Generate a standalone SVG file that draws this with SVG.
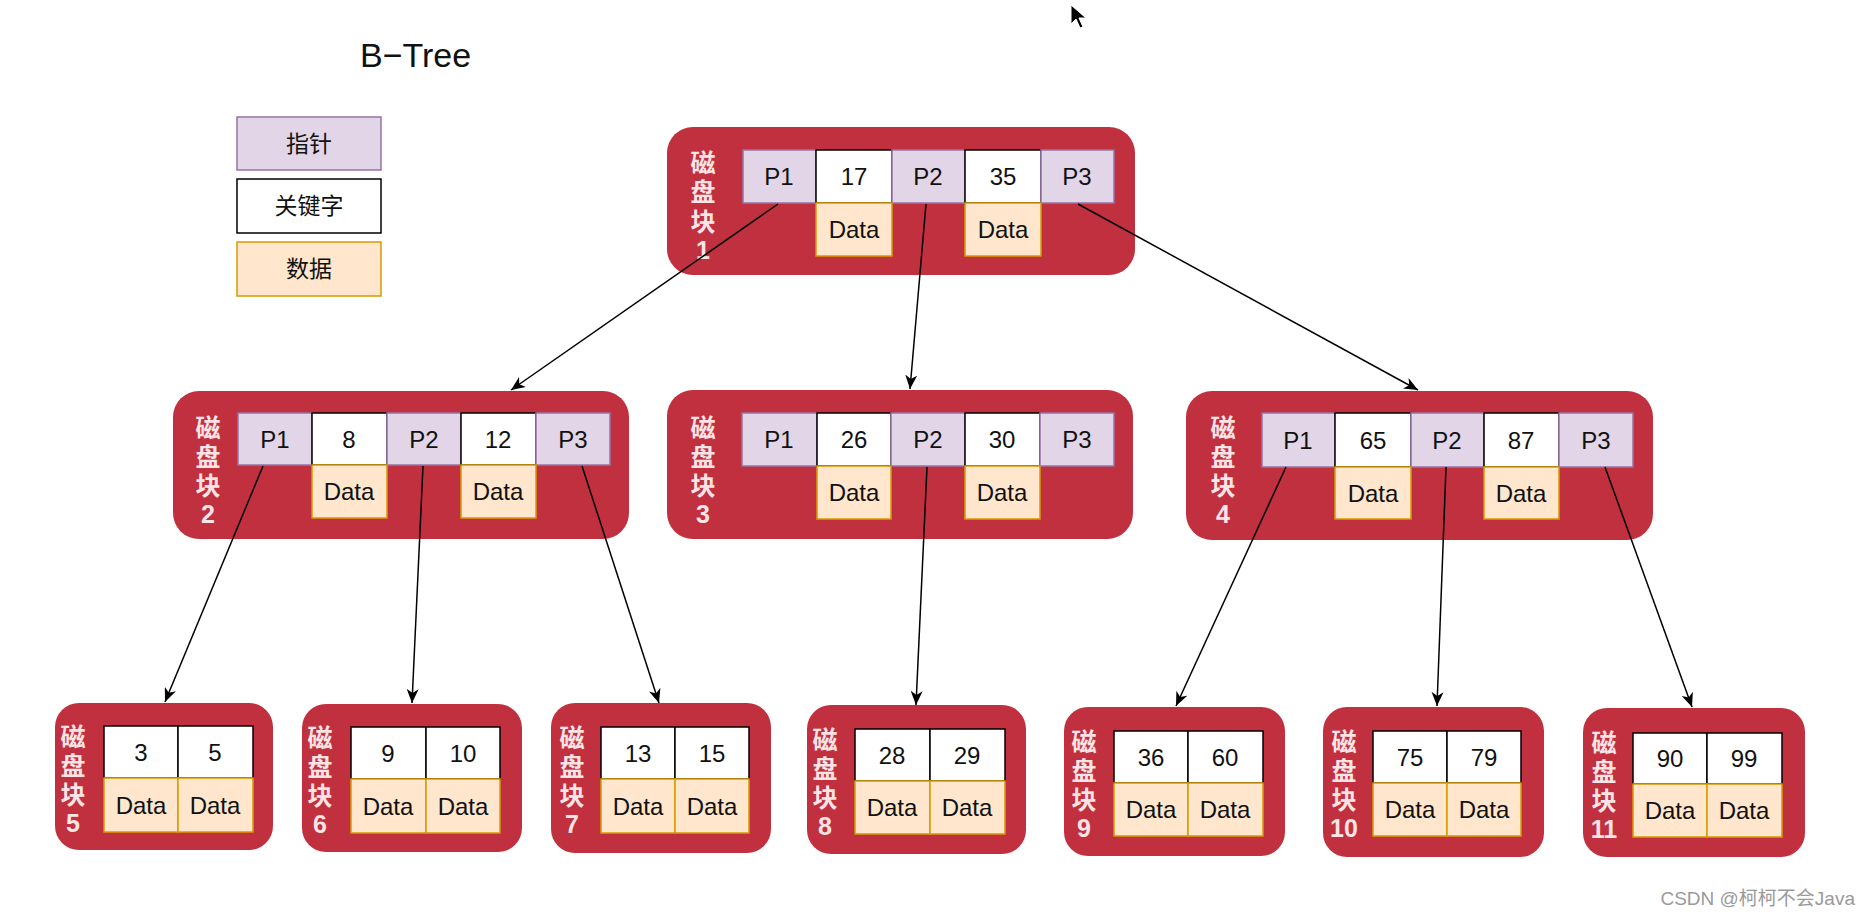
<svg xmlns="http://www.w3.org/2000/svg" width="1871" height="918" viewBox="0 0 1871 918">
<style>
text{font-family:"Liberation Sans","Noto Sans CJK SC",sans-serif;}
.blk{fill:#C1303E;}
.ptr{fill:#E1D5E7;stroke:#9673A6;stroke-width:1.5;}
.key{fill:#FFFFFF;stroke:#000000;stroke-width:1.5;}
.dat{fill:#FFE6CC;stroke:#D79B00;stroke-width:1.5;}
.t{font-size:24px;fill:#111;text-anchor:middle;}
.lg{font-size:23px;fill:#111;text-anchor:middle;}
.lb{font-size:25px;font-weight:bold;fill:#FBE3E6;text-anchor:middle;}
.cn{stroke:#000;stroke-width:1.5;fill:none;marker-end:url(#ah);}
</style>
<defs>
<marker id="ah" markerUnits="userSpaceOnUse" markerWidth="16" markerHeight="12" refX="14" refY="6" orient="auto">
<path d="M0,0 L14,6 L0,12 L4,6 z" fill="#000"/>
</marker>
</defs>
<rect width="1871" height="918" fill="#FFFFFF"/>
<g id="title"><text x="360" y="67" style="font-size:34px;fill:#111;">B−Tree</text></g>
<g id="legend">
<rect class="ptr" x="237" y="117" width="144" height="53"/><text class="lg" x="309" y="152">指针</text>
<rect class="key" x="237" y="179" width="144" height="54"/><text class="lg" x="309" y="214">关键字</text>
<rect class="dat" x="237" y="242" width="144" height="54"/><text class="lg" x="309" y="277">数据</text>
</g>
<g id="node1">
<rect class="blk" x="667" y="127" width="468" height="148" rx="26"/>
<text class="lb" x="703" y="172">磁</text><text class="lb" x="703" y="201">盘</text><text class="lb" x="703" y="231">块</text><text class="lb" x="703" y="259">1</text>
<rect class="ptr" x="743" y="150" width="73" height="53"/><rect class="key" x="816" y="150" width="76" height="53"/><rect class="ptr" x="892" y="150" width="73" height="53"/><rect class="key" x="965" y="150" width="76" height="53"/><rect class="ptr" x="1041" y="150" width="73" height="53"/>
<rect class="dat" x="816" y="203" width="76" height="53"/><rect class="dat" x="965" y="203" width="76" height="53"/>
<text class="t" x="779" y="185">P1</text><text class="t" x="854" y="185">17</text><text class="t" x="928" y="185">P2</text><text class="t" x="1003" y="185">35</text><text class="t" x="1077" y="185">P3</text>
<text class="t" x="854" y="238">Data</text><text class="t" x="1003" y="238">Data</text>
</g>
<g id="node2">
<rect class="blk" x="173" y="391" width="456" height="148" rx="26"/>
<text class="lb" x="208" y="437">磁</text><text class="lb" x="208" y="466">盘</text><text class="lb" x="208" y="495">块</text><text class="lb" x="208" y="523">2</text>
<rect class="ptr" x="238" y="413" width="74" height="52"/><rect class="key" x="312" y="413" width="75" height="52"/><rect class="ptr" x="387" y="413" width="74" height="52"/><rect class="key" x="461" y="413" width="75" height="52"/><rect class="ptr" x="536" y="413" width="74" height="52"/>
<rect class="dat" x="312" y="465" width="75" height="53"/><rect class="dat" x="461" y="465" width="75" height="53"/>
<text class="t" x="275" y="448">P1</text><text class="t" x="349" y="448">8</text><text class="t" x="424" y="448">P2</text><text class="t" x="498" y="448">12</text><text class="t" x="573" y="448">P3</text>
<text class="t" x="349" y="500">Data</text><text class="t" x="498" y="500">Data</text>
</g>
<g id="node3">
<rect class="blk" x="667" y="390" width="466" height="149" rx="26"/>
<text class="lb" x="703" y="437">磁</text><text class="lb" x="703" y="466">盘</text><text class="lb" x="703" y="495">块</text><text class="lb" x="703" y="523">3</text>
<rect class="ptr" x="742" y="413" width="75" height="53"/><rect class="key" x="817" y="413" width="74" height="53"/><rect class="ptr" x="891" y="413" width="74" height="53"/><rect class="key" x="965" y="413" width="75" height="53"/><rect class="ptr" x="1040" y="413" width="74" height="53"/>
<rect class="dat" x="817" y="466" width="74" height="53"/><rect class="dat" x="965" y="466" width="75" height="53"/>
<text class="t" x="779" y="448">P1</text><text class="t" x="854" y="448">26</text><text class="t" x="928" y="448">P2</text><text class="t" x="1002" y="448">30</text><text class="t" x="1077" y="448">P3</text>
<text class="t" x="854" y="501">Data</text><text class="t" x="1002" y="501">Data</text>
</g>
<g id="node4">
<rect class="blk" x="1186" y="391" width="467" height="149" rx="26"/>
<text class="lb" x="1223" y="437">磁</text><text class="lb" x="1223" y="466">盘</text><text class="lb" x="1223" y="495">块</text><text class="lb" x="1223" y="523">4</text>
<rect class="ptr" x="1262" y="413" width="73" height="54"/><rect class="key" x="1335" y="413" width="76" height="54"/><rect class="ptr" x="1411" y="413" width="73" height="54"/><rect class="key" x="1484" y="413" width="75" height="54"/><rect class="ptr" x="1559" y="413" width="74" height="54"/>
<rect class="dat" x="1335" y="467" width="76" height="52"/><rect class="dat" x="1484" y="467" width="75" height="52"/>
<text class="t" x="1298" y="449">P1</text><text class="t" x="1373" y="449">65</text><text class="t" x="1447" y="449">P2</text><text class="t" x="1521" y="449">87</text><text class="t" x="1596" y="449">P3</text>
<text class="t" x="1373" y="502">Data</text><text class="t" x="1521" y="502">Data</text>
</g>
<g id="node5">
<rect class="blk" x="55" y="703" width="218" height="147" rx="24"/>
<text class="lb" x="73" y="746">磁</text><text class="lb" x="73" y="775">盘</text><text class="lb" x="73" y="804">块</text><text class="lb" x="73" y="832">5</text>
<rect class="key" x="104" y="726" width="74" height="52"/><rect class="key" x="178" y="726" width="75" height="52"/>
<rect class="dat" x="104" y="778" width="74" height="54"/><rect class="dat" x="178" y="778" width="75" height="54"/>
<text class="t" x="141" y="761">3</text><text class="t" x="215" y="761">5</text>
<text class="t" x="141" y="814">Data</text><text class="t" x="215" y="814">Data</text>
</g>
<g id="node6">
<rect class="blk" x="302" y="704" width="220" height="148" rx="24"/>
<text class="lb" x="320" y="747">磁</text><text class="lb" x="320" y="776">盘</text><text class="lb" x="320" y="805">块</text><text class="lb" x="320" y="833">6</text>
<rect class="key" x="351" y="727" width="75" height="52"/><rect class="key" x="426" y="727" width="74" height="52"/>
<rect class="dat" x="351" y="779" width="75" height="54"/><rect class="dat" x="426" y="779" width="74" height="54"/>
<text class="t" x="388" y="762">9</text><text class="t" x="463" y="762">10</text>
<text class="t" x="388" y="815">Data</text><text class="t" x="463" y="815">Data</text>
</g>
<g id="node7">
<rect class="blk" x="551" y="703" width="220" height="150" rx="24"/>
<text class="lb" x="572" y="747">磁</text><text class="lb" x="572" y="776">盘</text><text class="lb" x="572" y="805">块</text><text class="lb" x="572" y="833">7</text>
<rect class="key" x="601" y="727" width="74" height="52"/><rect class="key" x="675" y="727" width="74" height="52"/>
<rect class="dat" x="601" y="779" width="74" height="54"/><rect class="dat" x="675" y="779" width="74" height="54"/>
<text class="t" x="638" y="762">13</text><text class="t" x="712" y="762">15</text>
<text class="t" x="638" y="815">Data</text><text class="t" x="712" y="815">Data</text>
</g>
<g id="node8">
<rect class="blk" x="807" y="705" width="219" height="149" rx="24"/>
<text class="lb" x="825" y="749">磁</text><text class="lb" x="825" y="778">盘</text><text class="lb" x="825" y="807">块</text><text class="lb" x="825" y="835">8</text>
<rect class="key" x="855" y="729" width="75" height="52"/><rect class="key" x="930" y="729" width="75" height="52"/>
<rect class="dat" x="855" y="781" width="75" height="53"/><rect class="dat" x="930" y="781" width="75" height="53"/>
<text class="t" x="892" y="764">28</text><text class="t" x="967" y="764">29</text>
<text class="t" x="892" y="816">Data</text><text class="t" x="967" y="816">Data</text>
</g>
<g id="node9">
<rect class="blk" x="1064" y="707" width="221" height="149" rx="24"/>
<text class="lb" x="1084" y="751">磁</text><text class="lb" x="1084" y="780">盘</text><text class="lb" x="1084" y="809">块</text><text class="lb" x="1084" y="837">9</text>
<rect class="key" x="1114" y="731" width="74" height="52"/><rect class="key" x="1188" y="731" width="75" height="52"/>
<rect class="dat" x="1114" y="783" width="74" height="53"/><rect class="dat" x="1188" y="783" width="75" height="53"/>
<text class="t" x="1151" y="766">36</text><text class="t" x="1225" y="766">60</text>
<text class="t" x="1151" y="818">Data</text><text class="t" x="1225" y="818">Data</text>
</g>
<g id="node10">
<rect class="blk" x="1323" y="707" width="221" height="150" rx="24"/>
<text class="lb" x="1344" y="751">磁</text><text class="lb" x="1344" y="780">盘</text><text class="lb" x="1344" y="809">块</text><text class="lb" x="1344" y="837">10</text>
<rect class="key" x="1373" y="731" width="74" height="52"/><rect class="key" x="1447" y="731" width="74" height="52"/>
<rect class="dat" x="1373" y="783" width="74" height="53"/><rect class="dat" x="1447" y="783" width="74" height="53"/>
<text class="t" x="1410" y="766">75</text><text class="t" x="1484" y="766">79</text>
<text class="t" x="1410" y="818">Data</text><text class="t" x="1484" y="818">Data</text>
</g>
<g id="node11">
<rect class="blk" x="1583" y="708" width="222" height="149" rx="24"/>
<text class="lb" x="1604" y="752">磁</text><text class="lb" x="1604" y="781">盘</text><text class="lb" x="1604" y="810">块</text><text class="lb" x="1604" y="838">11</text>
<rect class="key" x="1633" y="733" width="74" height="51"/><rect class="key" x="1707" y="733" width="75" height="51"/>
<rect class="dat" x="1633" y="784" width="74" height="53"/><rect class="dat" x="1707" y="784" width="75" height="53"/>
<text class="t" x="1670" y="767">90</text><text class="t" x="1744" y="767">99</text>
<text class="t" x="1670" y="819">Data</text><text class="t" x="1744" y="819">Data</text>
</g>
<g id="connectors">
<line class="cn" x1="778" y1="204" x2="511" y2="390"/>
<line class="cn" x1="926" y1="204" x2="910" y2="389"/>
<line class="cn" x1="1078" y1="204" x2="1418" y2="390"/>
<line class="cn" x1="263" y1="466" x2="165" y2="702"/>
<line class="cn" x1="423" y1="466" x2="412" y2="703"/>
<line class="cn" x1="582" y1="466" x2="659" y2="703"/>
<line class="cn" x1="927" y1="467" x2="916" y2="705"/>
<line class="cn" x1="1286" y1="467" x2="1176" y2="706"/>
<line class="cn" x1="1446" y1="467" x2="1437" y2="706"/>
<line class="cn" x1="1605" y1="467" x2="1692" y2="707"/>
</g>
<path d="M1071,5 L1071,24 L1076,19 L1080,28 L1083,27 L1079,18 L1086,18 Z" fill="#000" stroke="#fff" stroke-width="1"/>
<text x="1855" y="905" text-anchor="end" style="font-size:19px;fill:#9a9a9a;">CSDN @柯柯不会Java</text>
</svg>
